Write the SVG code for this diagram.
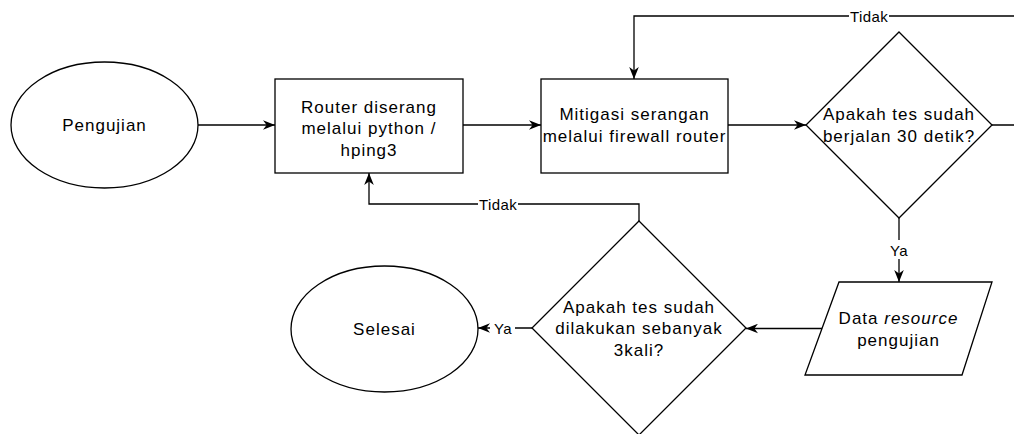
<svg xmlns="http://www.w3.org/2000/svg" width="1014" height="434" viewBox="0 0 1014 434">
  <style>
    .shape { fill: #ffffff; stroke: #000000; stroke-width: 1.3; }
    .edge { fill: none; stroke: #000000; stroke-width: 1.3; }
    .txt { font-family: "Liberation Sans", Arial, sans-serif; font-size: 17px; letter-spacing: 1px; fill: #000000; text-anchor: middle; }
    .lbl { font-family: "Liberation Sans", Arial, sans-serif; font-size: 15px; letter-spacing: 0.4px; fill: #000000; text-anchor: middle; }
    .lblbg { fill: #ffffff; stroke: none; }
  </style>
  <defs>
    <marker id="arrow" viewBox="0 0 10 8" refX="10" refY="4" markerWidth="12" markerHeight="10" markerUnits="userSpaceOnUse" orient="auto">
      <path d="M0,0 L10,4 L0,8 L3,4 Z" fill="#000000"/>
    </marker>
  </defs>
  <rect width="1014" height="434" fill="#ffffff"/>

  <!-- connectors -->
  <g id="connectors">
    <path class="edge" d="M198,125 H275" marker-end="url(#arrow)"/>
    <path class="edge" d="M463,125 H541" marker-end="url(#arrow)"/>
    <path class="edge" d="M728,125 H806" marker-end="url(#arrow)"/>
    <path class="edge" d="M992,125 H1030 V16 H634 V79" marker-end="url(#arrow)"/>
    <path class="edge" d="M899,218 V282" marker-end="url(#arrow)"/>
    <path class="edge" d="M822,328.5 H746" marker-end="url(#arrow)"/>
    <path class="edge" d="M639,221 V204 H369 V173" marker-end="url(#arrow)"/>
    <path class="edge" d="M532,328 H478" marker-end="url(#arrow)"/>

    <!-- edge labels -->
    <rect class="lblbg" x="849" y="8" width="40" height="16"/>
    <text class="lbl" x="869" y="21.5">Tidak</text>
    <rect class="lblbg" x="478" y="196" width="40" height="16"/>
    <text class="lbl" x="498" y="209.5">Tidak</text>
    <rect class="lblbg" x="887" y="240" width="24" height="19"/>
    <text class="lbl" x="899" y="256">Ya</text>
    <rect class="lblbg" x="490" y="320" width="25" height="16"/>
    <text class="lbl" x="503" y="333.5">Ya</text>
  </g>

  <!-- start -->
  <g id="pengujian">
    <ellipse class="shape" cx="104.5" cy="125" rx="93.5" ry="63"/>
    <text class="txt" x="104.5" y="131">Pengujian</text>
  </g>

  <!-- attack step -->
  <g id="router-diserang">
    <rect class="shape" x="275" y="79" width="188" height="94"/>
    <text class="txt" x="369" y="112.5">Router diserang</text>
    <text class="txt" x="369" y="134">melalui python /</text>
    <text class="txt" x="369" y="155.5">hping3</text>
  </g>

  <!-- mitigation step -->
  <g id="mitigasi">
    <rect class="shape" x="541" y="79" width="187" height="94"/>
    <text class="txt" x="634.5" y="120">Mitigasi serangan</text>
    <text class="txt" x="634.5" y="142">melalui firewall router</text>
  </g>

  <!-- decision: 30 seconds -->
  <g id="cek-30-detik">
    <polygon class="shape" points="899,32 992,125 899,218 806,125"/>
    <text class="txt" x="899" y="120">Apakah tes sudah</text>
    <text class="txt" x="899" y="142">berjalan 30 detik?</text>
  </g>

  <!-- data output -->
  <g id="data-resource">
    <polygon class="shape" points="839,282 992,282 962,375 805,375"/>
    <text class="txt" x="898.5" y="323.5">Data <tspan font-style="italic">resource</tspan></text>
    <text class="txt" x="898.5" y="345.5">pengujian</text>
  </g>

  <!-- decision: 3 times -->
  <g id="cek-3-kali">
    <polygon class="shape" points="639,221 746,328 639,435 532,328"/>
    <text class="txt" x="639" y="312.5">Apakah tes sudah</text>
    <text class="txt" x="639" y="334">dilakukan sebanyak</text>
    <text class="txt" x="639" y="355.5">3kali?</text>
  </g>

  <!-- end -->
  <g id="selesai">
    <ellipse class="shape" cx="384.5" cy="329" rx="93.5" ry="63"/>
    <text class="txt" x="384.5" y="335">Selesai</text>
  </g>
</svg>
